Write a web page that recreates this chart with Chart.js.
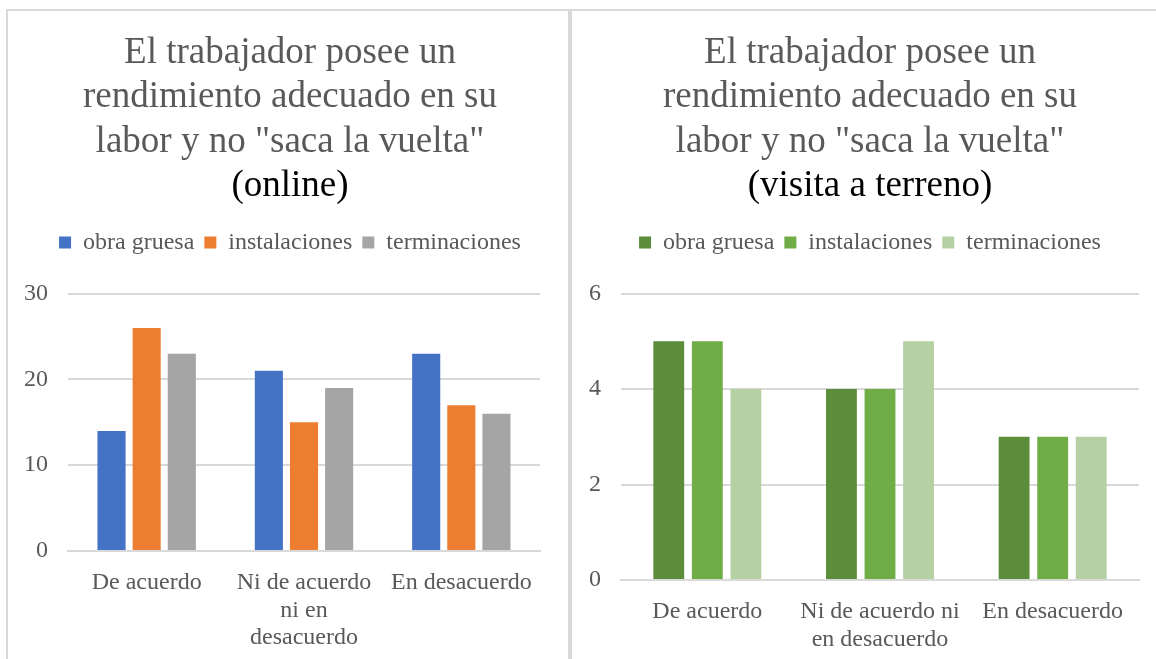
<!DOCTYPE html>
<html>
<head>
<meta charset="utf-8">
<script src="https://cdn.jsdelivr.net/npm/chart.js@4"></script>
<style>
  body { margin: 0; background: #fff; width: 1156px; height: 659px; overflow: hidden; position: relative; }
  .frame { position: absolute; left: 6px; top: 9px; right: 0; bottom: -10px; border-top: 2px solid #d9d9d9; border-left: 2px solid #d9d9d9; }
  .divider { position: absolute; left: 568px; top: 9px; width: 4px; bottom: 0; background: #d9d9d9; }
  .box { position: absolute; top: 11px; height: 648px; }
  #box1 { left: 8px; width: 560px; }
  #box2 { left: 572px; width: 584px; }
</style>
</head>
<body>
<div class="frame"></div>
<div class="divider"></div>
<div class="box" id="box1"><canvas id="chart1"></canvas></div>
<div class="box" id="box2"><canvas id="chart2"></canvas></div>
<script>
const titleLines = ['El trabajador posee un', 'rendimiento adecuado en su', 'labor y no "saca la vuelta"'];
const seriesNames = ['obra gruesa', 'instalaciones', 'terminaciones'];

// online
const labelsOnline = [['De acuerdo'], ['Ni de acuerdo', 'ni en', 'desacuerdo'], ['En desacuerdo']];
const obraOnline = [14, 21, 23];
const instOnline = [26, 15, 17];
const termOnline = [23, 19, 16];
const ticksOnline = [0, 10, 20, 30];

// visita a terreno
const labelsTerreno = [['De acuerdo'], ['Ni de acuerdo ni', 'en desacuerdo'], ['En desacuerdo']];
const obraTerreno = [5, 4, 3];
const instTerreno = [5, 4, 3];
const termTerreno = [4, 5, 3];
const ticksTerreno = [0, 2, 4, 6];

const serif = 'Liberation Serif, Times New Roman, serif';
const grey = '#595959';

// extra space under legend
const legendGap = {
  id: 'legendGap',
  beforeInit(chart) {
    const fit = chart.legend.fit;
    chart.legend.fit = function () {
      fit.bind(chart.legend)();
      this.height += chart.options.plugins.legendGap.gap;
    };
  }
};

function makeChart(id, labels, data, colors, sub, ticks, yWidth, rightSpace, xHeight, padLeft) {
  new Chart(document.getElementById(id), {
    type: 'bar',
    data: {
      labels: labels,
      datasets: seriesNames.map((n, i) => ({
        label: n,
        data: data[i],
        backgroundColor: colors[i],
        categoryPercentage: 0.67,
        barPercentage: 0.8
      }))
    },
    plugins: [legendGap],
    options: {
      responsive: true,
      maintainAspectRatio: false,
      animation: false,
      layout: { padding: { top: 20, right: 0, bottom: 0, left: padLeft } },
      plugins: {
        legendGap: { gap: 29 },
        title: {
          display: true,
          text: titleLines,
          color: grey,
          font: { family: serif, size: 37, weight: 'normal', lineHeight: 1.2 },
          padding: { top: 0, bottom: 0 }
        },
        subtitle: {
          display: true,
          text: sub,
          color: '#000',
          font: { family: serif, size: 37, weight: 'normal', lineHeight: 1.2 },
          padding: { top: 0, bottom: 12 }
        },
        legend: {
          labels: {
            color: grey,
            font: { family: serif, size: 24 },
            boxWidth: 12,
            boxHeight: 12,
            padding: 10
          }
        },
        tooltip: { enabled: false }
      },
      scales: {
        x: {
          grid: { display: false },
          border: { color: '#d9d9d9', width: 2 },
          ticks: {
            color: grey,
            font: { family: serif, size: 24, lineHeight: 1.15 },
            padding: 10,
            maxRotation: 0,
            autoSkip: false
          },
          afterFit(scale) { scale.height = xHeight; }
        },
        y: {
          min: ticks[0],
          max: ticks[ticks.length - 1],
          afterBuildTicks(scale) { scale.ticks = ticks.map(v => ({ value: v })); },
          grid: { color: '#d9d9d9', lineWidth: 2, drawTicks: false },
          border: { display: false },
          ticks: {
            color: grey,
            font: { family: serif, size: 24 },
            padding: 20
          },
          afterFit(scale) { scale.width = yWidth; }
        },
        // empty axis on the right, only keeps space
        spacer: {
          type: 'linear',
          position: 'right',
          grid: { display: false },
          border: { display: false },
          ticks: { display: false },
          afterFit(scale) { scale.width = rightSpace; }
        }
      }
    }
  });
}

makeChart('chart1', labelsOnline, [obraOnline, instOnline, termOnline],
  ['#4472C4', '#ED7D31', '#A5A5A5'], '(online)', ticksOnline, 56, 28, 108, 4);
makeChart('chart2', labelsTerreno, [obraTerreno, instTerreno, termTerreno],
  ['#5B8D3B', '#70AD47', '#B5D1A4'], '(visita a terreno)', ticksTerreno, 37, 17, 79, 12);
</script>
</body>
</html>
